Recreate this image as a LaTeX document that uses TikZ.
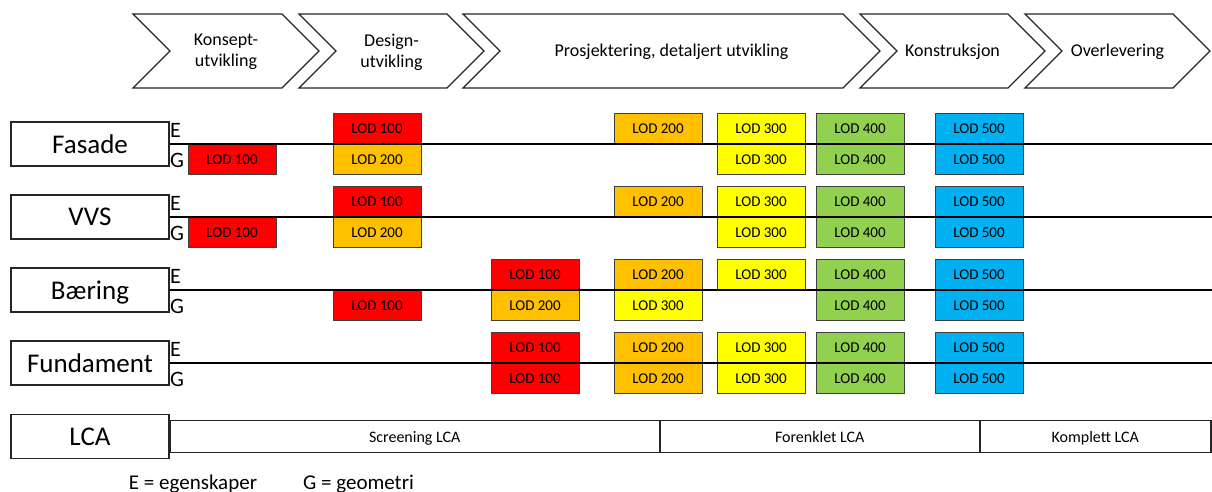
\documentclass[tikz,border=0pt]{standalone}
\usepackage{fontspec}
\setmainfont{Carlito}
\usetikzlibrary{positioning}

\definecolor{lod100}{HTML}{FF0000}
\definecolor{lod200}{HTML}{FFC000}
\definecolor{lod300}{HTML}{FFFF00}
\definecolor{lod400}{HTML}{92D050}
\definecolor{lod500}{HTML}{00B0F0}
\definecolor{boxedge}{HTML}{404040}

\tikzset{
	phase/.style={draw=black!85,line width=1.3pt,fill=white,line join=miter},
	phasetext/.style={align=center,font=\fontsize{18}{21}\selectfont,inner sep=0pt},
	rowlabel/.style={draw=black!85,line width=1.5pt,minimum width=158pt,minimum height=44pt,inner sep=0pt,text depth=0pt,font=\fontsize{27}{32}\selectfont},
	eg/.style={inner sep=0pt,anchor=base west,font=\fontsize{22}{26}\selectfont},
	lodbox/.style={draw=boxedge,line width=1pt,minimum width=88pt,minimum height=30pt,inner sep=0pt,font=\fontsize{15}{18}\selectfont},
	rowline/.style={line width=1.5pt},
	lcapart/.style={draw=black!85,line width=1.5pt,minimum height=32pt,inner sep=0pt,outer sep=0pt,text depth=0pt,font=\fontsize{16}{19}\selectfont},
	legend/.style={inner sep=0pt,anchor=base,font=\fontsize{21}{25}\selectfont}
}

\begin{document}
\begin{tikzpicture}[x=1pt,y=-1pt]
	\useasboundingbox (0,0) rectangle (1212,492);

	% phases
	\foreach \l/\r/\nm/\txt in {133/282/konsept/{Konsept-\\utvikling},299/447/design/{Design-\\utvikling},463/843/prosjektering/{Prosjektering, detaljert utvikling},860/1008/konstruksjon/{Konstruksjon},1025/1173/overlevering/{Overlevering}}{
		\draw[phase] (\l,14) -- (\r,14) -- ++(37,37) -- ++(-37,37) -- (\l,88) -- ++(37,-37) -- cycle;
		\node[phasetext] (\nm) at ({(\l+\r)/2+18.5},52) {\txt};
	}

	% rows
	\foreach \nm/\y/\txt in {fasade/144/Fasade,vvs/217/VVS,baering/290/Bæring,fundament/363/Fundament}{
		\node[rowlabel] (\nm) at (90,\y) {\txt};
		\node[eg] (\nm E) at (170,\y-7) {E};
		\node[eg] (\nm G) at (170,\y+23) {G};
		\coordinate (\nm End) at (1212,\y);
	}

	% Fasade
	\foreach \x/\lod in {377/100,658/200,761/300,860/400,979/500}
		\node[lodbox,fill=lod\lod,anchor=south] (fasadeE\lod) at (\x,144) {LOD \lod};
	\foreach \x/\lod in {232/100,377/200,761/300,860/400,979/500}
		\node[lodbox,fill=lod\lod,anchor=north] (fasadeG\lod) at (\x,144) {LOD \lod};
	% VVS
	\foreach \x/\lod in {377/100,658/200,761/300,860/400,979/500}
		\node[lodbox,fill=lod\lod,anchor=south] (vvsE\lod) at (\x,217) {LOD \lod};
	\foreach \x/\lod in {232/100,377/200,761/300,860/400,979/500}
		\node[lodbox,fill=lod\lod,anchor=north] (vvsG\lod) at (\x,217) {LOD \lod};
	% Baering
	\foreach \x/\lod in {535/100,658/200,761/300,860/400,979/500}
		\node[lodbox,fill=lod\lod,anchor=south] (baeringE\lod) at (\x,290) {LOD \lod};
	\foreach \x/\lod in {377/100,535/200,658/300,860/400,979/500}
		\node[lodbox,fill=lod\lod,anchor=north] (baeringG\lod) at (\x,290) {LOD \lod};
	% Fundament
	\foreach \x/\lod in {535/100,658/200,761/300,860/400,979/500}
		\node[lodbox,fill=lod\lod,anchor=south] (fundamentE\lod) at (\x,363) {LOD \lod};
	\foreach \x/\lod in {535/100,658/200,761/300,860/400,979/500}
		\node[lodbox,fill=lod\lod,anchor=north] (fundamentG\lod) at (\x,363) {LOD \lod};

	\foreach \nm in {fasade,vvs,baering,fundament}
		\draw[rowline] (\nm.east) -- (\nm End);

	% LCA
	\node[rowlabel] (lca) at (90,436.5) {LCA};
	\node[lcapart,minimum width=490pt,right=0pt of lca] (screening) {Screening LCA};
	\node[lcapart,minimum width=320pt,right=0pt of screening] (forenklet) {Forenklet LCA};
	\node[lcapart,minimum width=231pt,right=0pt of forenklet] (komplett) {Komplett LCA};

	\node[legend] (legendE) at (193,489) {E = egenskaper};
	\node[legend] (legendG) at (358.5,489) {G = geometri};
\end{tikzpicture}
\end{document}
